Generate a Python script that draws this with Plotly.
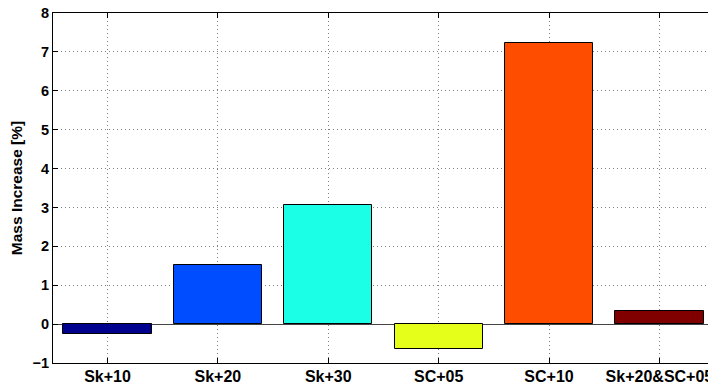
import plotly.graph_objects as go

# Mass increase per specimen group
groups = ["Sk+10", "Sk+20", "Sk+30", "SC+05", "SC+10", "Sk+20&SC+05"]
mass_increase = [-0.26, 1.53, 3.06, -0.65, 7.24, 0.34]
bar_colors = ["#00008F", "#004DFF", "#1AFFE6", "#E6FF1A", "#FF4D00", "#800000"]
y_ticks = [-1, 0, 1, 2, 3, 4, 5, 6, 7, 8]

positions = list(range(1, len(groups) + 1))

fig = go.Figure(
    go.Bar(
        x=positions,
        y=mass_increase,
        width=0.8,
        marker=dict(color=bar_colors, line=dict(color="black", width=1)),
        showlegend=False,
    )
)

font_family = "Liberation Sans, Arial, Helvetica, sans-serif"
grid_style = dict(showgrid=True, gridcolor="#808080", griddash="1px,3px", gridwidth=1)

fig.update_layout(
    width=708,
    height=385,
    margin=dict(l=53, r=0, t=13, b=22),
    paper_bgcolor="white",
    plot_bgcolor="white",
    font=dict(family=font_family, color="black"),
    bargap=0,
)

fig.update_xaxes(
    range=[0.506, 6.44],
    tickmode="array",
    tickvals=positions,
    ticktext=["<b>%s</b>" % g for g in groups],
    tickfont=dict(size=16, family=font_family, color="black"),
    ticklabeloverflow="allow",
    ticklabelstandoff=-1,
    automargin=False,
    ticks="inside",
    ticklen=5,
    tickcolor="black",
    showline=True,
    linecolor="black",
    linewidth=1,
    mirror="ticks",
    zeroline=False,
    **grid_style,
)

fig.update_yaxes(
    range=[-1, 8],
    tickmode="array",
    tickvals=y_ticks,
    ticktext=["<b>%s</b>" % ("\u2212%d" % -v if v < 0 else "%d" % v) for v in y_ticks],
    tickfont=dict(size=14.5, family=font_family, color="black"),
    automargin=False,
    ticks="inside",
    ticklen=5,
    tickcolor="black",
    showline=True,
    linecolor="black",
    linewidth=1,
    zeroline=True,
    zerolinecolor="#444444",
    zerolinewidth=1,
    title=dict(text="<b>Mass Increase [%]</b>", font=dict(size=15.5, family=font_family), standoff=6),
    **grid_style,
)

fig.write_html("out.html")
